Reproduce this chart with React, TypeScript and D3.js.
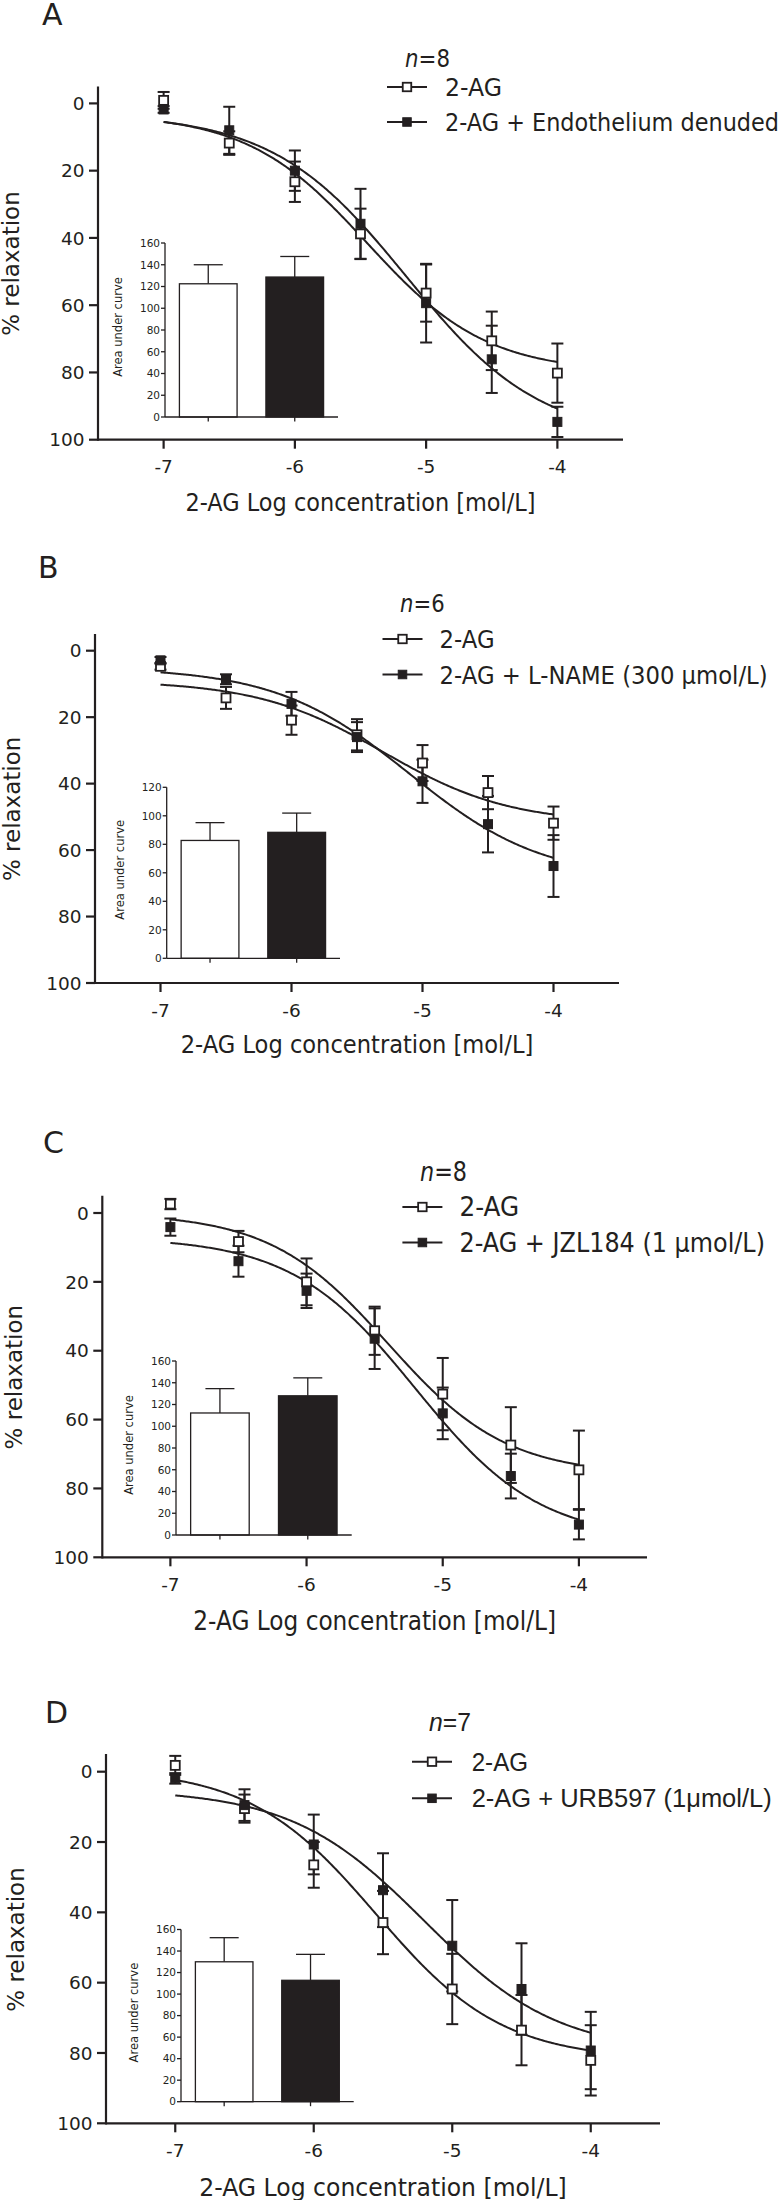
import React from "react";
import * as d3 from "d3";

// ---------------- data ----------------
const concentrations = [-7, -6.5, -6, -5.5, -5, -4.5, -4];
const xTickValues = [-7, -6, -5, -4];
const yTickValues = [0, 20, 40, 60, 80, 100];

const panelLetters = ["A", "B", "C", "D"];
const panelN = ["8", "6", "8", "7"];
const controlName = "2-AG";
const treatmentNames = [
  "2-AG + Endothelium denuded",
  "2-AG + L-NAME (300 \u03bcmol/L)",
  "2-AG + JZL184 (1 \u03bcmol/L)",
  "2-AG + URB597 (1\u03bcmol/L)",
];
const xAxisTitle = "2-AG Log concentration [mol/L]";
const yAxisTitle = "% relaxation";
const insetAxisTitle = "Area under curve";

// % relaxation means and SEM, per panel
const controlMeanA = [-0.9, 11.8, 23.3, 38.8, 56.4, 70.6, 80.2];
const controlSemA = [2.5, 3.5, 6, 7.5, 8.5, 8.7, 8.8];
const treatMeanA = [1.8, 8, 20, 35.8, 59.4, 76.1, 94.7];
const treatSemA = [1, 7, 6, 10.4, 11.7, 10, 4.5];

const controlMeanB = [4.7, 14.2, 20.9, 25.3, 33.8, 42.7, 51.9];
const controlSemB = [1, 3.3, 4.4, 4.7, 5.4, 5, 5];
const treatMeanB = [2.9, 8.6, 16, 26, 39.3, 52.2, 64.8];
const treatSemB = [1, 1.5, 3.6, 4.5, 6.5, 8.5, 9.3];

const controlMeanC = [-2.6, 8.3, 20, 34.2, 52.6, 67.4, 74.6];
const controlSemC = [1.5, 3.1, 6.8, 7, 10.5, 11, 11.4];
const treatMeanC = [4.1, 14, 22.6, 36.5, 58.2, 76.4, 90.5];
const treatSemC = [2.5, 4.5, 5, 8.8, 7.5, 6.5, 4.3];

const controlMeanD = [-1.8, 10.5, 26.5, 42.9, 61.8, 73.5, 82.1];
const controlSemD = [2.7, 4, 6.5, 9, 10, 10, 10];
const treatMeanD = [1.9, 9.5, 20.7, 33.7, 49.5, 61.8, 79.3];
const treatSemD = [1.5, 4.5, 8.5, 10.5, 13, 13, 11];

// fitted sigmoid parameters [bottom, top, logEC50, hill]
const controlFit = [
  [3, 80, -5.45, 0.95],
  [9, 52, -5.3, 0.9],
  [0, 76, -5.4, 1.0],
  [-1, 82, -5.55, 0.95],
];
const treatFit = [
  [3, 100, -5.15, 0.85],
  [5, 69, -5.1, 0.85],
  [7, 95, -5.2, 0.95],
  [5, 80, -5.2, 0.9],
];

// inset: area under curve
const aucGroups = ["control", "treatment"];
const aucControl = [122.5, 82.7, 112.2, 130];
const aucControlSem = [17.5, 12.5, 22.4, 22.4];
const aucTreat = [128.7, 88.4, 128, 112.8];
const aucTreatSem = [18.9, 13.5, 16.5, 24.1];
const aucAxisMax = [160, 120, 160, 160];

const controlMeans = [controlMeanA, controlMeanB, controlMeanC, controlMeanD];
const controlSems = [controlSemA, controlSemB, controlSemC, controlSemD];
const treatMeans = [treatMeanA, treatMeanB, treatMeanC, treatMeanD];
const treatSems = [treatSemA, treatSemB, treatSemC, treatSemD];

// ---------------- layout ----------------
const FONT = "'DejaVu Sans', Verdana, sans-serif";
const ARIAL = "'Liberation Sans', Arial, sans-serif";

const layouts = [
  { ax: 98, axEnd: 623, y0: 103.4, y100: 439.7, letterX: 42, letterY: 25, nX: 405, nY: 58.3, nW: 45,
    legX: 387, legTextX: 445, legY: [87, 122], legW: [57, 334], fs: 25, legFont: FONT, xLabW: 350, xLabDy: 62, yLabX: 11,
    inX: 165, inW: 173, in0: 417, inTop: 243 },
  { ax: 95, axEnd: 619, y0: 650.7, y100: 983, letterX: 38, letterY: 578, nX: 400, nY: 603, nW: 44.6,
    legX: 382.5, legTextX: 439.6, legY: [639, 674.5], legW: [55, 328], fs: 25, legFont: FONT, xLabW: 352.7, xLabDy: 61, yLabX: 12,
    inX: 166.7, inW: 173.3, in0: 958.3, inTop: 787.3 },
  { ax: 102.3, axEnd: 647, y0: 1213, y100: 1557.3, letterX: 43, letterY: 1153, nX: 420, nY: 1172, nW: 47,
    legX: 402.4, legTextX: 459.5, legY: [1207, 1242.5], legW: [59.7, 305.5], fs: 26, legFont: FONT, xLabW: 362.7, xLabDy: 63.4, yLabX: 14,
    inX: 176, inW: 175.7, in0: 1535, inTop: 1361 },
  { ax: 106, axEnd: 660, y0: 1771.7, y100: 2123.3, letterX: 45, letterY: 1723, nX: 429, nY: 1721.7, nW: 42,
    legX: 412, legTextX: 471.7, legY: [1761.7, 1798.3], legW: [56.3, 300], fs: 25, legFont: ARIAL, xLabW: 367.6, xLabDy: 63.4, yLabX: 16,
    inX: 181, inW: 172.7, in0: 2101.7, inTop: 1929.5 },
];

const INK = "#231f20";
const MS = 9; // marker size
const CAP = 12;

function logistic(p: number[], c: number) {
  return p[0] + (p[1] - p[0]) / (1 + Math.pow(10, (p[2] - c) * p[3]));
}

function Marker({ cx, cy, filled, size = MS }: { cx: number; cy: number; filled: boolean; size?: number }) {
  return (
    <rect
      x={cx - size / 2}
      y={cy - size / 2}
      width={size}
      height={size}
      fill={filled ? INK : "#fff"}
      stroke={INK}
      strokeWidth={filled ? 1 : 1.8}
    />
  );
}

function Panel({ i }: { i: number }) {
  const L = layouts[i];
  const x = d3.scaleLinear().domain([-7.5, -3.5]).range([L.ax, L.axEnd]);
  const y = d3.scaleLinear().domain([0, 100]).range([L.y0, L.y100]);
  const yTop = y(-5);
  const samples = d3.range(0, 301).map((k) => -7 + k * 0.01);
  const curvePath = (p: number[]) =>
    d3
      .line<number>()
      .x((c) => x(c))
      .y((c) => y(logistic(p, c)))(samples) || "";

  const series = [
    { mean: controlMeans[i], sem: controlSems[i], fit: controlFit[i], filled: false },
    { mean: treatMeans[i], sem: treatSems[i], fit: treatFit[i], filled: true },
  ];

  // inset scales
  const iy = d3.scaleLinear().domain([0, aucAxisMax[i]]).range([L.in0, L.inTop]);
  const ib = d3
    .scaleBand<string>()
    .domain(aucGroups)
    .range([L.inX, L.inX + L.inW])
    .paddingInner(1 / 3)
    .paddingOuter(1 / 6);
  const iTicks = d3.range(0, aucAxisMax[i] + 1, 20);
  const bars = [
    { key: aucGroups[0], v: aucControl[i], s: aucControlSem[i], fill: "#fff" },
    { key: aucGroups[1], v: aucTreat[i], s: aucTreatSem[i], fill: INK },
  ];

  const fs = L.fs;
  const legLineLen = 40;

  return (
    <g fontFamily={FONT} fill={INK}>
      {/* panel letter */}
      <text x={L.letterX} y={L.letterY} fontSize={30}>
        {panelLetters[i]}
      </text>

      {/* n label */}
      <text
        x={L.nX}
        y={L.nY}
        dy="0.36em"
        fontSize={fs}
        fontFamily={L.legFont}
        textLength={L.nW}
        lengthAdjust="spacingAndGlyphs"
      >
        <tspan fontStyle="italic">n</tspan>
        <tspan>={panelN[i]}</tspan>
      </text>

      {/* legend */}
      {[controlName, treatmentNames[i]].map((name, k) => (
        <g key={name}>
          <line x1={L.legX} x2={L.legX + legLineLen} y1={L.legY[k]} y2={L.legY[k]} stroke={INK} strokeWidth={2} />
          <Marker cx={L.legX + legLineLen / 2} cy={L.legY[k]} filled={k === 1} size={8.5} />
          <text
            x={L.legTextX}
            y={L.legY[k]}
            dy="0.36em"
            fontSize={fs}
            fontFamily={L.legFont}
            textLength={L.legW[k]}
            lengthAdjust="spacingAndGlyphs"
          >
            {name}
          </text>
        </g>
      ))}

      {/* axes */}
      <line x1={L.ax} x2={L.ax} y1={yTop} y2={L.y100 + 1.1} stroke={INK} strokeWidth={2.2} />
      <line x1={L.ax} x2={L.axEnd} y1={L.y100} y2={L.y100} stroke={INK} strokeWidth={2.2} />
      {yTickValues.map((t) => (
        <g key={"y" + t}>
          <line x1={L.ax - 9} x2={L.ax} y1={y(t)} y2={y(t)} stroke={INK} strokeWidth={2.2} />
          <text x={L.ax - 13.5} y={y(t)} dy="0.36em" textAnchor="end" fontSize={18.5}>
            {t}
          </text>
        </g>
      ))}
      {xTickValues.map((t) => (
        <g key={"x" + t}>
          <line x1={x(t)} x2={x(t)} y1={L.y100} y2={L.y100 + 9} stroke={INK} strokeWidth={2.2} />
          <text x={x(t)} y={L.y100 + 27} dy="0.36em" textAnchor="middle" fontSize={18.5}>
            {t}
          </text>
        </g>
      ))}
      <text
        x={(L.ax + L.axEnd) / 2}
        y={L.y100 + L.xLabDy}
        dy="0.36em"
        textAnchor="middle"
        fontSize={fs}
        textLength={L.xLabW}
        lengthAdjust="spacingAndGlyphs"
      >
        {xAxisTitle}
      </text>
      <text
        transform={`translate(${L.yLabX},${(L.y0 + L.y100) / 2 - 8}) rotate(-90)`}
        dy="0.36em"
        textAnchor="middle"
        fontSize={23}
      >
        {yAxisTitle}
      </text>

      {/* inset */}
      <g>
        {bars.map((b) => {
          const cx = (ib(b.key) || 0) + ib.bandwidth() / 2;
          return (
            <g key={b.key}>
              <line x1={cx} x2={cx} y1={iy(b.v)} y2={iy(b.v + b.s)} stroke={INK} strokeWidth={1.3} />
              <line x1={cx - 14.5} x2={cx + 14.5} y1={iy(b.v + b.s)} y2={iy(b.v + b.s)} stroke={INK} strokeWidth={1.3} />
              <rect
                x={ib(b.key)}
                y={iy(b.v)}
                width={ib.bandwidth()}
                height={iy(0) - iy(b.v)}
                fill={b.fill}
                stroke={INK}
                strokeWidth={1.3}
              />
              <line x1={cx} x2={cx} y1={iy(0)} y2={iy(0) + 4.5} stroke={INK} strokeWidth={1.3} />
            </g>
          );
        })}
        <line x1={L.inX} x2={L.inX} y1={iy(aucAxisMax[i])} y2={iy(0)} stroke={INK} strokeWidth={1.3} />
        <line x1={L.inX} x2={L.inX + L.inW} y1={iy(0)} y2={iy(0)} stroke={INK} strokeWidth={1.3} />
        {iTicks.map((t) => (
          <g key={"iy" + t}>
            <line x1={L.inX - 4} x2={L.inX} y1={iy(t)} y2={iy(t)} stroke={INK} strokeWidth={1.3} />
            <text x={L.inX - 5} y={iy(t)} dy="0.36em" textAnchor="end" fontSize={10.5}>
              {t}
            </text>
          </g>
        ))}
        <text
          transform={`translate(${L.inX - 47},${(L.in0 + L.inTop) / 2 - 3}) rotate(-90)`}
          dy="0.36em"
          textAnchor="middle"
          fontSize={11.5}
        >
          {insetAxisTitle}
        </text>
      </g>

      {/* curves */}
      {series.map((s, k) => (
        <path key={"c" + k} d={curvePath(s.fit)} fill="none" stroke={INK} strokeWidth={2} />
      ))}

      {/* error bars */}
      {series.map((s, k) =>
        concentrations.map((c, j) => {
          const cx = x(c);
          const lo = y(s.mean[j] - s.sem[j]);
          const hi = y(s.mean[j] + s.sem[j]);
          return (
            <g key={"e" + k + "-" + j}>
              <line x1={cx} x2={cx} y1={lo} y2={hi} stroke={INK} strokeWidth={2} />
              <line x1={cx - CAP / 2} x2={cx + CAP / 2} y1={lo} y2={lo} stroke={INK} strokeWidth={2} />
              <line x1={cx - CAP / 2} x2={cx + CAP / 2} y1={hi} y2={hi} stroke={INK} strokeWidth={2} />
            </g>
          );
        })
      )}

      {/* markers */}
      {series.map((s, k) =>
        concentrations.map((c, j) => (
          <Marker key={"m" + k + "-" + j} cx={x(c)} cy={y(s.mean[j])} filled={s.filled} />
        ))
      )}
    </g>
  );
}

export default function App() {
  return (
    <svg
      width={779}
      height={2200}
      viewBox="0 0 779 2200"
      style={{ position: "absolute", left: 0, top: 0, background: "#fff" }}
    >
      <rect x={0} y={0} width={779} height={2200} fill="#fff" />
      {panelLetters.map((_, i) => (
        <Panel key={i} i={i} />
      ))}
    </svg>
  );
}
